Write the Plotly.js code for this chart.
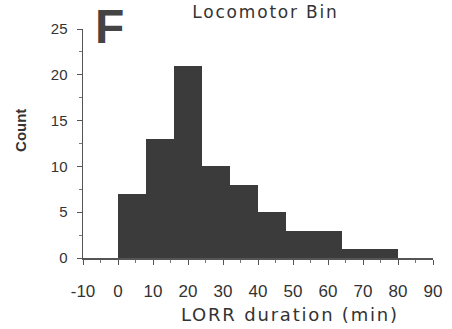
<!DOCTYPE html>
<html>
<head>
<meta charset="utf-8">
<script src="https://cdn.plot.ly/plotly-3.0.1.min.js"></script>
<style>html,body{margin:0;padding:0;background:#fff;}#chart{width:452px;height:329px;}</style>
</head>
<body>
<div id="chart"></div>
<script>
// LORR duration histogram (bins of 8 min)
const binStarts = [0, 8, 16, 24, 32, 40, 48, 56, 64, 72];
const binWidth = 8;
const counts = [7, 13, 21, 10, 8, 5, 3, 3, 1, 1];
const xTicks = [-10, 0, 10, 20, 30, 40, 50, 60, 70, 80, 90];
const yTicks = [0, 5, 10, 15, 20, 25];
const panelLetter = "F";
const chartTitle = "Locomotor Bin";
const xTitle = "LORR duration (min)";
const yTitle = "Count";

const centers = binStarts.map(s => s + binWidth / 2);
const font = "Liberation Sans, Arial, Helvetica, sans-serif";
const wideFont = "DejaVu Sans, Liberation Sans, sans-serif";

const trace = {
  type: "bar",
  x: centers,
  y: counts,
  width: binStarts.map(() => binWidth),
  marker: {color: "#3b3b3b", line: {width: 0}},
  hoverinfo: "skip"
};

const layout = {
  width: 452, height: 329,
  margin: {l: 83, r: 19, t: 29, b: 71},
  paper_bgcolor: "#fff", plot_bgcolor: "#fff",
  showlegend: false,
  bargap: 0,
  font: {family: font, color: "#333"},
  xaxis: {
    range: [-10, 90],
    tickvals: xTicks,
    ticktext: xTicks.map(v => v < 0 ? "-" + Math.abs(v) : String(v)),
    ticks: "outside", ticklen: 5, tickwidth: 1, tickcolor: "#555",
    minor: {dtick: 5, tick0: 0, ticks: "outside", ticklen: 3, tickcolor: "#777"},
    showline: true, linecolor: "#555", linewidth: 1.5,
    showgrid: false, zeroline: false,
    tickfont: {size: 17, color: "#333", family: font},
    ticklabelstandoff: 12
  },
  yaxis: {
    range: [0, 25],
    tickvals: yTicks,
    ticks: "outside", ticklen: 5, tickwidth: 1, tickcolor: "#555",
    minor: {dtick: 2.5, tick0: 0, ticks: "outside", ticklen: 3, tickcolor: "#777"},
    showline: true, linecolor: "#555", linewidth: 1.5,
    showgrid: false, zeroline: false,
    tickfont: {size: 15, color: "#333", family: font},
    ticklabelstandoff: 6
  },
  annotations: [
    {text: panelLetter, xref: "paper", yref: "paper", x: 0.077, y: 1.01,
     xanchor: "center", yanchor: "middle", showarrow: false,
     font: {size: 48, family: font, color: "#444", weight: "bold"}},
    {text: chartTitle, xref: "paper", yref: "paper", x: 0.522, y: 1.124,
     xanchor: "center", yanchor: "top", showarrow: false, borderpad: 0,
     font: {size: 17, family: wideFont, color: "#333"}},
    {text: xTitle, xref: "paper", yref: "paper", x: 0.591, y: -0.248,
     xanchor: "center", yanchor: "middle", showarrow: false,
     font: {size: 18, family: wideFont, color: "#333"}},
    {text: yTitle, xref: "paper", yref: "paper", x: -0.177, y: 0.555,
     xanchor: "center", yanchor: "middle", showarrow: false, textangle: -90,
     font: {size: 15, family: font, color: "#333", weight: "bold"}}
  ]
};

Plotly.newPlot("chart", [trace], layout, {staticPlot: true, displayModeBar: false}).then(gd => {
  gd.querySelectorAll(".annotation-text").forEach(t => {
    const s = t.textContent;
    if (s === chartTitle || s === xTitle) {
      t.style.letterSpacing = "1.8px";
    }
  });
});
</script>
</body>
</html>
